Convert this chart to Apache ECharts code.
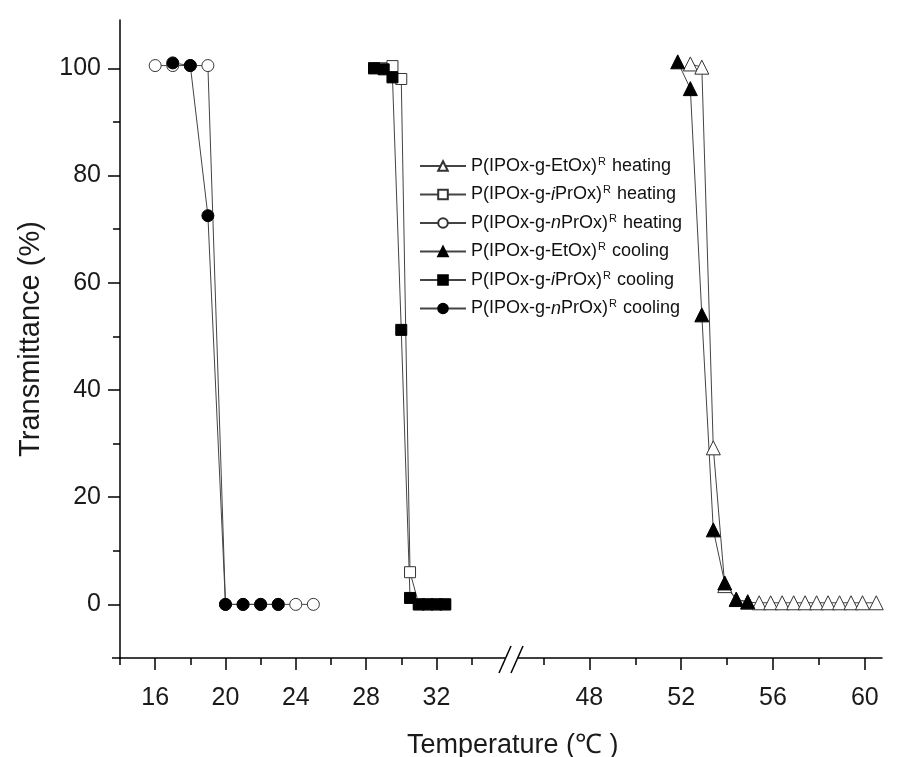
<!DOCTYPE html>
<html>
<head>
<meta charset="utf-8">
<script src="https://cdn.jsdelivr.net/npm/echarts@6/dist/echarts.min.js"></script>
<style>html,body{margin:0;padding:0;background:#fff;}#c{width:897px;height:757px;}</style>
</head>
<body>
<div id="c"></div>
<script>
// ---- data ----
const nHeatX = [16, 17, 18, 19, 20, 21, 22, 23, 24, 25];
const nHeatY = [100.5, 100.5, 100.5, 100.5, 0, 0, 0, 0, 0, 0];
const nCoolX = [17, 18, 19, 20, 21, 22, 23];
const nCoolY = [101, 100.5, 72.5, 0, 0, 0, 0];

const iHeatX = [28.45, 29, 29.5, 30, 30.5, 31, 31.5, 32, 32.5];
const iHeatY = [100, 100, 100.4, 98, 6, 0, 0, 0, 0];
const iCoolX = [28.45, 29, 29.5, 30, 30.5, 31, 31.5, 32, 32.5];
const iCoolY = [100, 99.8, 98.3, 51.2, 1.2, 0, 0, 0, 0];

const eHeatX = [52.4, 52.9, 53.4, 53.9, 54.4, 54.9, 55.4, 55.9, 56.4, 56.9, 57.4, 57.9, 58.4, 58.9, 59.4, 59.9, 60.5];
const eHeatY = [100.8, 100.2, 29.2, 3.5, 1, 0.4, 0.3, 0.3, 0.3, 0.3, 0.3, 0.3, 0.3, 0.3, 0.3, 0.3, 0.3];
const eCoolX = [51.85, 52.4, 52.9, 53.4, 53.9, 54.4, 54.9];
const eCoolY = [101.2, 96.2, 54, 13.9, 4, 0.9, 0.5];

const xLeftLabels = [16, 20, 24, 28, 32];
const xLeftMinor = [14, 18, 22, 26, 30, 34];
const xRightLabels = [48, 52, 56, 60];
const xRightMinor = [46, 50, 54, 58];
const yLabels = [0, 20, 40, 60, 80, 100];
const yMinor = [10, 30, 50, 70, 90];

const names = [
  'P(IPOx-g-EtOx)R heating', 'P(IPOx-g-iPrOx)R heating', 'P(IPOx-g-nPrOx)R heating',
  'P(IPOx-g-EtOx)R cooling', 'P(IPOx-g-iPrOx)R cooling', 'P(IPOx-g-nPrOx)R cooling'
];
const richNames = [
  '{n|P(IPOx-g-EtOx)}{s|R}{n| heating}',
  '{n|P(IPOx-g-}{i|i}{n|PrOx)}{s|R}{n| heating}',
  '{n|P(IPOx-g-}{i|n}{n|PrOx)}{s|R}{n| heating}',
  '{n|P(IPOx-g-EtOx)}{s|R}{n| cooling}',
  '{n|P(IPOx-g-}{i|i}{n|PrOx)}{s|R}{n| cooling}',
  '{n|P(IPOx-g-}{i|n}{n|PrOx)}{s|R}{n| cooling}'
];

const zip = (xs, ys) => xs.map((x, i) => [x, ys[i]]);

const FONT = 'Liberation Sans, Arial, sans-serif';
const yMin = -10, yMax = 109;
const lMin = 14, lMax = 36.3, rMin = 44.63, rMax = 60.75;

function mk(name, xs, ys, symbol, size, filled, xi, yi) {
  return {
    name: name, type: 'line', xAxisIndex: xi, yAxisIndex: yi,
    data: zip(xs, ys), symbol: symbol, symbolSize: size, showAllSymbol: true,
    lineStyle: { color: '#444', width: 1 },
    itemStyle: filled ? { color: '#000', borderColor: '#000', borderWidth: 1 }
                      : { color: '#fff', borderColor: '#333', borderWidth: 1 },
    emphasis: { disabled: true }, animation: false
  };
}

const chart = echarts.init(document.getElementById('c'), null, { renderer: 'canvas' });
const axisLine = { show: true, onZero: false, lineStyle: { color: '#000', width: 1.5 } };
const noLine = { show: false, onZero: false };
const tickStyle = { color: '#000', width: 1.5 };
chart.setOption({
  animation: false,
  backgroundColor: '#fff',
  textStyle: { fontFamily: FONT },
  grid: [
    { left: 120, top: 20, width: 392, height: 638 },
    { left: 512, top: 20, width: 370, height: 638 }
  ],
  title: {
    text: 'Temperature (\u2103 )', left: 402, top: 727,
    textStyle: { fontFamily: FONT, fontSize: 27, fontWeight: 'normal', color: '#1a1a1a' }
  },
  legend: {
    orient: 'vertical', left: 414, top: 151, itemWidth: 46, itemHeight: 12, itemGap: 9.5,
    data: names,
    formatter: function (nm) { return richNames[names.indexOf(nm)]; },
    textStyle: {
      fontFamily: FONT, fontSize: 18, color: '#111',
      rich: {
        n: { fontFamily: FONT, fontSize: 18, color: '#111', lineHeight: 20 },
        i: { fontFamily: FONT, fontSize: 18, fontStyle: 'italic', color: '#111', lineHeight: 20 },
        s: { fontFamily: FONT, fontSize: 11, color: '#111', verticalAlign: 'top', lineHeight: 20, padding: [0, 1, 0, 1] }
      }
    }
  },
  xAxis: [
    { gridIndex: 0, type: 'value', min: lMin, max: lMax, position: 'bottom', axisLine: axisLine,
      axisTick: { show: true, customValues: xLeftLabels, length: 12, lineStyle: tickStyle },
      axisLabel: { customValues: xLeftLabels, fontSize: 25, color: '#1a1a1a', margin: 28, fontFamily: FONT },
      splitLine: { show: false } },
    { gridIndex: 0, type: 'value', min: lMin, max: lMax, position: 'bottom', axisLine: noLine,
      axisTick: { show: true, customValues: xLeftMinor, length: 7, lineStyle: tickStyle },
      axisLabel: { show: false }, splitLine: { show: false } },
    { gridIndex: 1, type: 'value', min: rMin, max: rMax, position: 'bottom', axisLine: axisLine,
      axisTick: { show: true, customValues: xRightLabels, length: 12, lineStyle: tickStyle },
      axisLabel: { customValues: xRightLabels, fontSize: 25, color: '#1a1a1a', margin: 28, fontFamily: FONT },
      splitLine: { show: false } },
    { gridIndex: 1, type: 'value', min: rMin, max: rMax, position: 'bottom', axisLine: noLine,
      axisTick: { show: true, customValues: xRightMinor, length: 7, lineStyle: tickStyle },
      axisLabel: { show: false }, splitLine: { show: false } }
  ],
  yAxis: [
    { gridIndex: 0, type: 'value', min: yMin, max: yMax, position: 'left', axisLine: axisLine,
      name: 'Transmittance (%)', nameLocation: 'middle', nameGap: 75,
      nameTextStyle: { fontSize: 29, color: '#1a1a1a', fontFamily: FONT },
      axisTick: { show: true, customValues: yLabels, length: 12, lineStyle: tickStyle },
      axisLabel: { customValues: yLabels, fontSize: 25, color: '#1a1a1a', margin: 19, fontFamily: FONT },
      splitLine: { show: false } },
    { gridIndex: 0, type: 'value', min: yMin, max: yMax, position: 'left', axisLine: noLine,
      axisTick: { show: true, customValues: yMinor, length: 7, lineStyle: tickStyle },
      axisLabel: { show: false }, splitLine: { show: false } },
    { gridIndex: 1, type: 'value', min: yMin, max: yMax, show: false }
  ],
  graphic: [
    { type: 'line', shape: { x1: 112, y1: 658, x2: 121, y2: 658 }, style: { stroke: '#000', lineWidth: 1.5 }, z: 100 },
    { type: 'rect', shape: { x: 505, y: 655, width: 12, height: 6 }, style: { fill: '#fff' }, z: 100 },
    { type: 'line', shape: { x1: 499, y1: 673, x2: 511, y2: 646 }, style: { stroke: '#000', lineWidth: 1.5 }, z: 101 },
    { type: 'line', shape: { x1: 511, y1: 673, x2: 523, y2: 646 }, style: { stroke: '#000', lineWidth: 1.5 }, z: 101 }
  ],
  series: [
    mk(names[0], eHeatX, eHeatY, 'triangle', 14, false, 2, 2),
    mk(names[1], iHeatX, iHeatY, 'rect', 11, false, 0, 0),
    mk(names[2], nHeatX, nHeatY, 'circle', 12, false, 0, 0),
    mk(names[3], eCoolX, eCoolY, 'triangle', 14, true, 2, 2),
    mk(names[4], iCoolX, iCoolY, 'rect', 11, true, 0, 0),
    mk(names[5], nCoolX, nCoolY, 'circle', 12, true, 0, 0)
  ]
});
</script>
</body>
</html>
